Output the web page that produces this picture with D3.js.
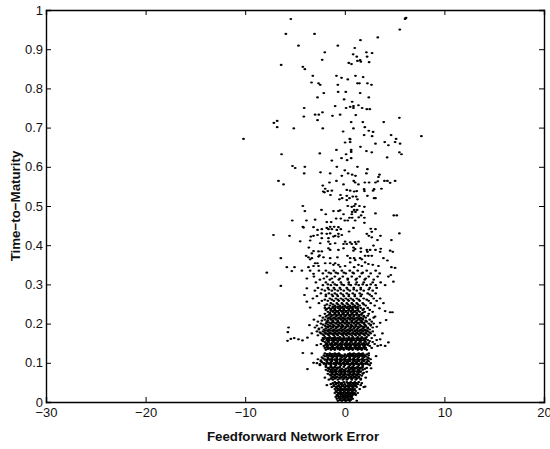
<!DOCTYPE html>
<html><head><meta charset="utf-8">
<script src="https://cdn.jsdelivr.net/npm/d3@7"></script>
<style>html,body{margin:0;padding:0;background:#fff}svg{display:block}text{font-family:"Liberation Sans",Arial,sans-serif;fill:#111}</style>
</head><body><div id="chart"></div>
<script>
const xTicks=[-30,-20,-10,0,10,20];
const yTicks=[0,0.1,0.2,0.3,0.4,0.5,0.6,0.7,0.8,0.9,1];
const xTitle="Feedforward Network Error";
const yTitle="Time\u2212to\u2212Maturity";
// [error, time-to-maturity]
const upperPoints=[[-5.42,.977],[6.09,.979],[6.15,.98],[6.05,.977],[5.52,.95],[-5.92,.939],[-3.04,.939],[3.31,.93],[1.57,.923],[-4.65,.909],[-.7,.909],[1,.903],[-2.01,.892],[2.17,.892],[2.74,.89],[.84,.887],[1.2,.881],[2.24,.881],[-2.27,.873],[1.54,.872],[1.27,.87],[1.61,.868],[2.44,.867],[.4,.865],[.67,.862],[-6.39,.86],[-4.21,.855],[-4.01,.849],[-3.21,.832],[-.84,.832],[1.07,.832],[-.33,.827],[1.84,.829],[.3,.823],[-3.34,.815],[-2.64,.813],[-2.47,.809],[-.7,.809],[1.27,.813],[1.47,.813],[2.27,.813],[2.68,.809],[-.67,.791],[.1,.791],[-2.11,.788],[1.54,.788],[-2.74,.777],[2.41,.777],[-.07,.772],[.74,.766],[-.97,.755],[-4.08,.75],[.13,.75],[.54,.753],[.87,.755],[.87,.75],[1.37,.757],[1.74,.75],[2.21,.747],[2.51,.747],[-2.24,.739],[-2.98,.733],[-2.61,.733],[-4.11,.728],[-1.24,.73],[-.47,.733],[1.1,.732],[-2.74,.719],[-6.79,.717],[-7.12,.712],[.64,.714],[1.81,.714],[3.91,.714],[5.48,.725],[-6.79,.701],[-5.12,.698],[-2.21,.698],[.87,.698],[2.01,.701],[2.41,.692],[2.84,.689],[-.17,.69],[1.94,.681],[2.74,.678],[4.65,.681],[7.69,.678],[-10.17,.671],[.5,.671],[5.15,.671]];
const middlePoints=[[.54,.67],[.03,.662],[.54,.663],[4.01,.663],[3.08,.659],[5.05,.663],[4.38,.655],[5.55,.659],[1.57,.651],[-.84,.643],[.64,.643],[2.17,.64],[2.71,.637],[-2.51,.634],[-6.35,.632],[.13,.632],[.64,.638],[5.48,.637],[5.69,.632],[4.25,.624],[-.33,.622],[.64,.622],[.23,.617],[-1.3,.616],[-5.25,.602],[-4.98,.597],[-4.01,.6],[-.8,.6],[1.27,.6],[2.27,.594],[0,.591],[-4.08,.583],[-2.44,.586],[-1.47,.583],[2.17,.583],[.33,.583],[.74,.58],[1.07,.577],[-.3,.577],[3.48,.58],[3.38,.574],[-6.66,.564],[-6.15,.555],[-1.54,.56],[-.84,.564],[.9,.564],[1.04,.56],[2.01,.56],[2.44,.56],[3.08,.56],[3.31,.563],[3.98,.564],[4.28,.564],[4.55,.559],[5.05,.564],[-.13,.555],[1.37,.555],[-2.21,.552],[-1.97,.544],[.2,.541],[.54,.539],[.94,.537],[1.2,.538],[1.94,.543],[1.97,.538],[2.94,.543],[2.84,.539],[3.68,.544],[-2.17,.537],[-2.04,.535],[-1.71,.538],[-1.3,.539],[-1.44,.528],[-.43,.528],[.2,.526],[.8,.524],[1.14,.524],[2.27,.526],[2.94,.52],[3.08,.52],[-.54,.517],[-.27,.52],[.2,.515],[.47,.52],[1.27,.517],[-4.21,.5],[.3,.5],[1.07,.505],[.94,.5],[1.47,.5],[1.97,.498],[.7,.498],[-4.01,.487],[-2.34,.49],[-1.14,.487],[-.64,.487],[-.47,.489],[.94,.49],[1.24,.49],[.74,.485],[1.07,.485],[1.81,.485],[-1.91,.479],[-.13,.479],[1.64,.476],[3.08,.481],[.7,.479],[4.92,.476],[5.22,.476],[-.87,.468],[-.4,.468],[.47,.47],[.74,.47],[1.4,.471],[1.97,.47],[-5.28,.463],[-3.85,.463],[-2.98,.465],[-1.81,.459],[-1.37,.459],[0,.463],[.3,.463],[1.04,.463],[1.97,.457]];
const lowerPoints=[[-4.21,.447],[-4.14,.445],[-3.14,.446],[-1.47,.447],[-1.07,.447],[-1.81,.444],[-.64,.446],[-2.74,.439],[-2.31,.441],[-1.64,.441],[-1.3,.441],[-.8,.439],[-.4,.441],[.87,.444],[2.61,.442],[3.08,.441],[.43,.435],[2.71,.434],[-7.16,.426],[-5.55,.424],[5.48,.43],[-3.41,.422],[-3.14,.424],[-2.74,.426],[-2.31,.43],[-1.81,.429],[-1.47,.43],[-.97,.424],[-.64,.429],[-.3,.426],[2.21,.429],[2.41,.424],[2.71,.42],[3.58,.424],[-3.48,.412],[-2.31,.418],[-1.64,.418],[-1.14,.422],[-.64,.422],[-4.48,.41],[4.68,.413],[3.28,.413],[.03,.409],[.54,.407],[1.04,.408],[1.37,.409],[-2.47,.405],[-1.64,.409],[-1.47,.403],[-.97,.405],[-.13,.403],[.2,.403],[.7,.403],[1.14,.403],[2.88,.399],[-3.61,.394],[-1.64,.392],[-.13,.392],[.87,.394],[1.04,.39],[1.61,.392],[2.21,.388],[2.54,.388],[3.08,.388],[3.61,.391],[4.55,.386],[4.82,.383],[-3.14,.385],[-2.64,.384],[-2.31,.384],[-1.47,.388],[-.64,.388],[.87,.386],[1.61,.383],[2.27,.383],[3.55,.383],[-3.31,.379],[-2.54,.374],[-3.88,.373],[-3.65,.369],[-3.31,.367],[-2.64,.371],[-2.14,.369],[-1.47,.367],[-.74,.369],[.27,.373],[.54,.367],[.94,.367],[1.54,.367],[2.04,.373],[2.37,.373],[2.71,.373],[-6.42,.367],[-3.48,.364],[3.88,.367],[4.28,.361],[-2.98,.354],[-2.74,.354],[-1.97,.354],[-1.47,.354],[-.97,.354],[-.64,.35],[.54,.356],[1.04,.362],[1.71,.364],[2.04,.356],[2.37,.352],[2.81,.35],[-5.82,.344],[-5.05,.344],[-3.65,.344],[-3.14,.347],[-2.64,.347],[-1.14,.35],[-.47,.345],[.03,.347],[.94,.344],[1.37,.35],[1.71,.347],[3.38,.347],[4.68,.344],[5.05,.342]];
const outlierPoints=[[-7.83,.33],[-6.42,.296],[-5.32,.334],[-4.31,.335],[-3.48,.335],[-3.14,.327],[-3.81,.315],[-3.81,.29],[-4.05,.273],[-3.81,.256],[-3.48,.241],[-5.65,.19],[-5.72,.178],[-5.75,.156],[-5.42,.161],[-5.08,.163],[-4.65,.16],[-4.25,.157],[-4.21,.125],[-3.75,.084],[-3.31,.124],[-3.14,.1],[-3.55,.196],[-3.31,.175],[-3.75,.164],[-2.81,.145],[4.88,.307],[4.38,.32],[4.62,.324],[4.05,.298],[3.55,.264],[3.88,.252],[4.05,.232],[4.55,.229],[4.78,.229],[3.48,.239],[3.04,.218],[4.15,.209],[3.55,.202],[3.21,.192],[3.78,.175],[3.55,.16],[4.38,.152],[4.05,.143],[3.61,.145],[3.14,.117],[2.64,.086],[2.04,.039],[1.2,.003],[1.04,.02]];
// rows of errors at a shared maturity level
const denseLevels=[.335,.328,.32,.312,.305,.298,.291,.284,.277,.27,.264,.258,.252,.246,.24,.235,.23,.225,.22,.215,.21,.205,.2,.195,.19,.185,.18,.175,.17,.163,.158,.153,.148,.143,.138,.133,.124,.119,.114,.109,.104,.099,.094,.087,.082,.077,.072,.067,.062,.057,.048,.043,.038,.033,.028,.023,.018,.013,.008,.003];
const denseErrors=[
[-2.6,-1.9,-1.1,-.3,.5,1.3,2.2,3.1],
[-2.2,-1.4,-.7,.1,.9,1.7,2.6,3.5],
[-3.1,-1.8,-1,-.2,.7,1.5,2.4,3.3],
[-2.5,-1.5,-.6,.3,1.1,2,2.9],
[-2.9,-1.9,-1.2,-.4,.4,1.2,1.9,2.8,3.6],
[-2.2,-1.4,-.8,-.1,.6,1.4,2.2,3.1],
[-2.7,-1.7,-1.1,-.5,.2,.9,1.6,2.5,3.2],
[-3,-2,-1.3,-.7,-.1,.5,1.2,1.9,2.8],
[-2.4,-1.6,-1,-.4,.2,.8,1.5,2.3,3.1],
[-2.8,-1.9,-1.2,-.7,-.1,.4,1,1.6,2.7],
[-3.2,-1.5,-.9,-.4,.1,.6,1.2,1.9,2.9],
[-2.3,-1.7,-1.1,-.6,-.1,.4,.9,1.5,2.4,3.2],
[-2.6,-1.4,-.8,-.3,.2,.7,1.2,1.8,2.6],
[-2,-1.5,-1,-.5,0,.5,1,1.5,2.1,3],
[-2,-1.6,-1.2,-.7,-.3,.2,.6,1.1,1.6,2.3],
[-1.9,-1.4,-1,-.5,-.1,.4,.8,1.3,1.8,2.5],
[-1.7,-1.2,-.8,-.3,.1,.6,1,1.5,2,2.8],
[-2,-1.5,-1,-.6,-.2,.3,.7,1.2,1.7,2.4],
[-2.5,-1.8,-1.3,-.8,-.4,.1,.5,.9,1.4,1.9,2.3],
[-2.2,-1.6,-1.1,-.6,-.2,.3,.7,1.2,1.6,2.1,2.9],
[-3.1,-2,-1.4,-.9,-.4,0,.5,.9,1.4,1.8,2.5],
[-2.7,-1.8,-1.2,-.7,-.2,.2,.7,1.1,1.7,2.2,2.7],
[-2.4,-1.9,-1.4,-.9,-.5,0,.4,.9,1.3,1.9,2.4,2.9],
[-2.8,-2,-1.5,-1.1,-.6,-.2,.3,.7,1.1,1.6,2.1,2.6],
[-3,-2.3,-1.7,-1.2,-.8,-.3,.1,.6,1,1.4,1.9,2.3,2.8],
[-2.6,-2.1,-1.6,-1.1,-.6,-.2,.3,.7,1.2,1.6,2,2.5],
[-2.8,-2.2,-1.7,-1.2,-.8,-.3,.1,.5,1,1.4,1.8,2.3,2.8],
[-2.4,-1.9,-1.4,-1,-.5,-.1,.4,.8,1.2,1.7,2.1,2.6],
[-2.7,-2.1,-1.6,-1.1,-.7,-.2,.2,.7,1.1,1.5,2,2.4,3],
[-2.2,-1.7,-1.2,-.7,.4,.8,1.3,1.7,2.1,2.7],
[-2.3,-1.8,-1.3,-.9,-.4,0,.5,.9,1.4,1.9,2.3,3.2],
[-2,-1.6,-1.1,-.7,-.2,.2,.7,1.1,1.6,2.1,2.8],
[-2.4,-1.9,-1.4,-.9,-.5,0,.4,.9,1.3,1.8,2.2,3],
[-2.1,-1.7,-1.2,-.7,-.3,.2,.6,1.1,1.5,2,2.5,3.3],
[-2,-1.5,-1.1,-.6,-.2,.3,.7,1.2,1.6,2.1,2.7],
[-1.9,-1.4,-1,-.5,-.1,.4,.8,1.3,1.7,2.2],
[-2,-1.5,-1,-.6,.5,.9,1.4,1.8,2.4],
[-2.1,-1.6,-1.2,-.7,-.3,.2,.6,1.1,1.5,2,2.4],
[-2.3,-1.7,-1.2,-.8,-.3,.1,.5,1,1.4,1.9,2.3],
[-2.7,-2,-1.5,-1,-.5,-.1,.4,.8,1.3,1.7,2.2,2.6],
[-2.4,-1.8,-1.3,-.8,-.4,.1,.5,1,1.4,1.9,2.4],
[-2.8,-2.1,-1.6,-1.1,-.7,-.2,.2,.7,1.1,1.6,2.1,2.6],
[-2.5,-1.9,-1.4,-.9,-.4,0,.5,.9,1.4,1.8,2.5],
[-1.7,-1.2,-.7,.3,.8,1.2,1.7,2.2],
[-1.9,-1.4,-1,-.5,-.1,.4,.8,1.3,1.8],
[-1.5,-1.1,-.6,-.2,.3,.7,1.2,1.6,2.2],
[-1.7,-1.3,-.8,-.4,0,.5,.9,1.3,1.8],
[-1.4,-1,-.5,-.1,.4,.8,1.2,1.7],
[-2,-1.3,-.9,-.4,0,.5,.9,1.4,2.1],
[-1.6,-1.2,-.7,-.2,.2,.7,1.1,1.6],
[-1.2,-.8,-.3,.4,.8,1.2,1.7],
[-1.8,-1.1,-.6,-.2,.3,.7,1.1,1.6],
[-1.3,-.9,-.5,0,.4,.8,1.2,1.9],
[-1,-.6,-.2,.2,.6,1,1.5],
[-.9,-.5,-.1,.3,.7,1.1],
[-1,-.6,-.2,.2,.6,1,1.3],
[-.8,-.4,0,.4,.8,1.1],
[-.9,-.5,-.1,.3,.7],
[-.8,-.4,0,.4,.8],
[-.7,-.3,.1,.5]
];
const coreLevels=[.33,.315,.3,.287,.274,.261,.249,.2375,.2275,.2175,.2075,.1975,.1875,.1775,.1725,.1655,.1605,.1555,.1505,.1455,.1405,.1355,.1215,.1165,.1115,.1065,.1015,.0965,.0895,.0845,.0795,.0745,.0695,.0645,.0595,.0505,.0455,.0405,.0355,.0305,.0255,.0205,.0155,.0105,.0055];
const coreErrors=[
[-1.6,-.9,-.1,.8,1.8],
[-2.1,-1.3,-.5,.3,1.2,2.1],
[-1.7,-1,-.3,.4,1.1,1.8,2.6],
[-2.3,-1.6,-1,-.4,.3,.9,1.6,2.4],
[-1.9,-1.3,-.8,-.2,.4,1,1.7,2.5],
[-2,-1.3,-.7,-.2,.3,.8,1.4,2.2],
[-1.8,-1.2,-.7,-.2,.3,.8,1.3,1.9],
[-1.8,-1.4,-1,-.5,-.1,.4,.8,1.3,1.9],
[-1.5,-1,-.6,-.1,.3,.8,1.2,1.8],
[-1.9,-1.4,-.9,-.4,0,.5,.9,1.4,1.9],
[-2.3,-1.7,-1.2,-.7,-.2,.2,.7,1.2,1.6,2.1],
[-2.2,-1.7,-1.2,-.7,-.3,.2,.6,1.1,1.5,2,2.6],
[-2.6,-1.9,-1.4,-.9,-.4,0,.5,.9,1.3,1.8,2.3],
[-2.5,-2,-1.5,-1,-.6,-.1,.3,.8,1.2,1.6,2.1,2.5],
[-2.2,-1.7,-1.2,-.8,-.3,.1,.5,1,1.4,1.9,2.3],
[-2,-1.5,-1,-.5,-.1,.4,.8,1.3,1.7,2.2],
[-2.1,-1.6,-1.1,-.6,-.2,.3,.7,1.2,1.6,2.1],
[-2.2,-1.7,-1.2,-.7,-.3,.2,.6,1.1,1.5,2,2.5],
[-1.8,-1.3,-.9,-.4,.1,.5,1,1.4,1.9,2.4],
[-1.9,-1.4,-1,-.5,0,.4,.9,1.3,1.8,2.3],
[-1.8,-1.3,-.8,-.4,.1,.5,1,1.4,1.9],
[-1.7,-1.2,-.7,-.3,.2,.6,1.1,1.5,2],
[-1.8,-1.3,-.9,-.5,0,.4,.8,1.3,1.7,2.2],
[-2,-1.4,-1,-.5,-.1,.4,.8,1.2,1.7,2.1],
[-2.2,-1.7,-1.3,-.8,-.4,0,.5,.9,1.3,1.8,2.4],
[-2.4,-1.8,-1.3,-.9,-.4,0,.4,.9,1.3,1.8,2.3],
[-2.3,-1.8,-1.4,-.9,-.5,-.1,.3,.8,1.2,1.7,2.2],
[-2.5,-1.9,-1.4,-1,-.5,-.1,.3,.7,1.2,1.7,2.3],
[-1.9,-1.4,-1,-.5,-.1,.4,.8,1.3,1.8],
[-1.6,-1.2,-.8,-.3,.1,.6,1,1.5,2],
[-1.7,-1.3,-.9,-.4,0,.4,.9,1.4],
[-1.3,-.9,-.4,0,.5,.9,1.4,1.9],
[-1.5,-1,-.6,-.2,.2,.7,1.1,1.5],
[-1.2,-.8,-.3,.1,.6,1,1.4],
[-1.4,-1,-.5,-.1,.3,.7,1.2,1.6],
[-1,-.6,-.1,.2,.6,1,1.4],
[-1.4,-.9,-.4,0,.5,.9,1.3],
[-1.1,-.7,-.3,.1,.5,.9,1.1],
[-.8,-.4,0,.4,.8],
[-.7,-.3,.1,.5,.9],
[-.8,-.4,0,.4,.8],
[-.6,-.2,.2,.6,1],
[-.7,-.2,.2,.6],
[-.6,-.2,.2,.6],
[-.5,-.1,.3,.6]
];
// third pass: rows that close the gaps left in the solid region
const solidLevels=[.2425,.2325,.2225,.2125,.2025,.1925,.1825,.1745,.1625,.1575,.1475,.1375,.1225,.1175,.1075,.0975,.0875,.0785,.0705,.0625,.0485,.0395,.0315,.0225,.0135,.0045];
const solidErrors=[
[-1.2,-.95,-.7,-.45,-.2,.05,.3,.55,.8,1.05,1.3],
[-1.4,-1.15,-.9,-.65,-.4,-.15,.1,.35,.6,.85,1.1,1.35],
[-1.6,-1.35,-1.1,-.85,-.6,-.35,-.1,.15,.4,.65,.9,1.15,1.4,1.65],
[-1.7,-1.45,-1.2,-.95,-.7,-.45,-.2,.05,.3,.55,.8,1.05,1.3,1.55,1.8],
[-1.8,-1.55,-1.3,-1.05,-.8,-.55,-.3,-.05,.2,.45,.7,.95,1.2,1.45,1.7,1.95],
[-1.9,-1.65,-1.4,-1.15,-.9,-.65,-.4,-.15,.1,.35,.6,.85,1.1,1.35,1.6,1.85,2.1],
[-2,-1.75,-1.5,-1.25,-1,-.75,-.5,-.25,0,.25,.5,.75,1,1.25,1.5,1.75,2,2.2],
[-1.9,-1.65,-1.4,-1.15,-.9,-.65,-.4,-.15,.1,.35,.6,.85,1.1,1.35,1.6,1.85],
[-1.85,-1.6,-1.35,-1.1,-.85,-.6,-.35,-.1,.15,.4,.65,.9,1.15,1.4,1.65,1.9],
[-1.8,-1.55,-1.3,-1.05,-.8,-.55,-.3,-.05,.2,.45,.7,.95,1.2,1.45,1.7,1.95],
[-1.75,-1.5,-1.25,-1,-.75,-.5,-.25,0,.25,.5,.75,1,1.25,1.5,1.75,2],
[-1.7,-1.45,-1.2,-.95,-.7,-.45,-.2,.05,.3,.55,.8,1.05,1.3,1.55,1.8],
[-1.75,-1.5,-1.25,-1,-.75,.35,.6,.85,1.1,1.35,1.6,1.85],
[-1.8,-1.55,-1.3,-1.05,-.8,-.55,-.3,-.05,.2,.45,.7,.95,1.2,1.45,1.7,1.95],
[-2,-1.75,-1.5,-1.25,-1,-.75,-.5,-.25,0,.25,.5,.75,1,1.25,1.5,1.75,2],
[-2.1,-1.85,-1.6,-1.35,-1.1,-.85,-.6,-.35,-.1,.15,.4,.65,.9,1.15,1.4,1.65,1.9,2.1],
[-1.5,-1.25,-1,-.75,-.5,.4,.65,.9,1.15,1.4,1.65],
[-1.4,-1.15,-.9,-.65,-.4,-.15,.1,.35,.6,.85,1.1,1.35,1.6],
[-1.2,-.95,-.7,-.45,-.2,.05,.3,.55,.8,1.05,1.3],
[-1.1,-.85,-.6,-.35,-.1,.15,.4,.65,.9,1.15],
[-.9,-.65,-.4,.3,.55,.8,1.05],
[-.8,-.55,-.3,-.05,.2,.45,.7,.95],
[-.7,-.45,-.2,.05,.3,.55,.8],
[-.65,-.4,-.15,.1,.35,.6,.85],
[-.6,-.35,-.1,.15,.4,.65],
[-.5,-.25,0,.25,.5]
];
const points=[...upperPoints,...middlePoints,...lowerPoints,...outlierPoints,
  ...denseLevels.flatMap((t,i)=>denseErrors[i].map(e=>[e,t])),
  ...coreLevels.flatMap((t,i)=>coreErrors[i].map(e=>[e,t])),
  ...solidLevels.flatMap((t,i)=>solidErrors[i].map(e=>[e,t]))];

const W=550,H=449,L=46,R=544,T=10,B=402;
const svg=d3.select("#chart").append("svg").attr("width",W).attr("height",H);
const x=d3.scaleLinear().domain([-30,20]).range([L,R]);
const y=d3.scaleLinear().domain([0,1]).range([B,T]);

svg.append("g").selectAll("ellipse").data(points).join("ellipse")
  .attr("cx",d=>x(d[0])).attr("cy",d=>y(d[1])).attr("rx",1.45).attr("ry",1.1).attr("fill","#000");

const fmt=d3.format("~g");
function style(g){
  g.selectAll("path").attr("stroke","#000").attr("stroke-width",1.4);
  g.selectAll("line").attr("stroke","#000").attr("stroke-width",1);
  g.selectAll("text").attr("font-size",13).style("font-family",'"Liberation Sans",Arial,sans-serif').attr("fill","#222");
}
svg.append("g").attr("transform",`translate(0,${B})`)
  .call(d3.axisBottom(x).tickValues(xTicks).tickFormat(fmt).tickSize(-5).tickPadding(6)).call(style);
svg.append("g").attr("transform",`translate(0,${T})`)
  .call(d3.axisTop(x).tickValues(xTicks).tickFormat("").tickSize(-5)).call(style);
svg.append("g").attr("transform",`translate(${L},0)`)
  .call(d3.axisLeft(y).tickValues(yTicks).tickFormat(fmt).tickSize(-5).tickPadding(3)).call(style);
svg.append("g").attr("transform",`translate(${R},0)`)
  .call(d3.axisRight(y).tickValues(yTicks).tickFormat("").tickSize(-5)).call(style);

svg.append("text").attr("x",293).attr("y",441).attr("text-anchor","middle")
  .attr("font-size",13.3).attr("font-weight","bold").text(xTitle);
svg.append("text").attr("transform","translate(20,206) rotate(-90)").attr("text-anchor","middle")
  .attr("font-size",13.3).attr("font-weight","bold").text(yTitle);
</script></body></html>
